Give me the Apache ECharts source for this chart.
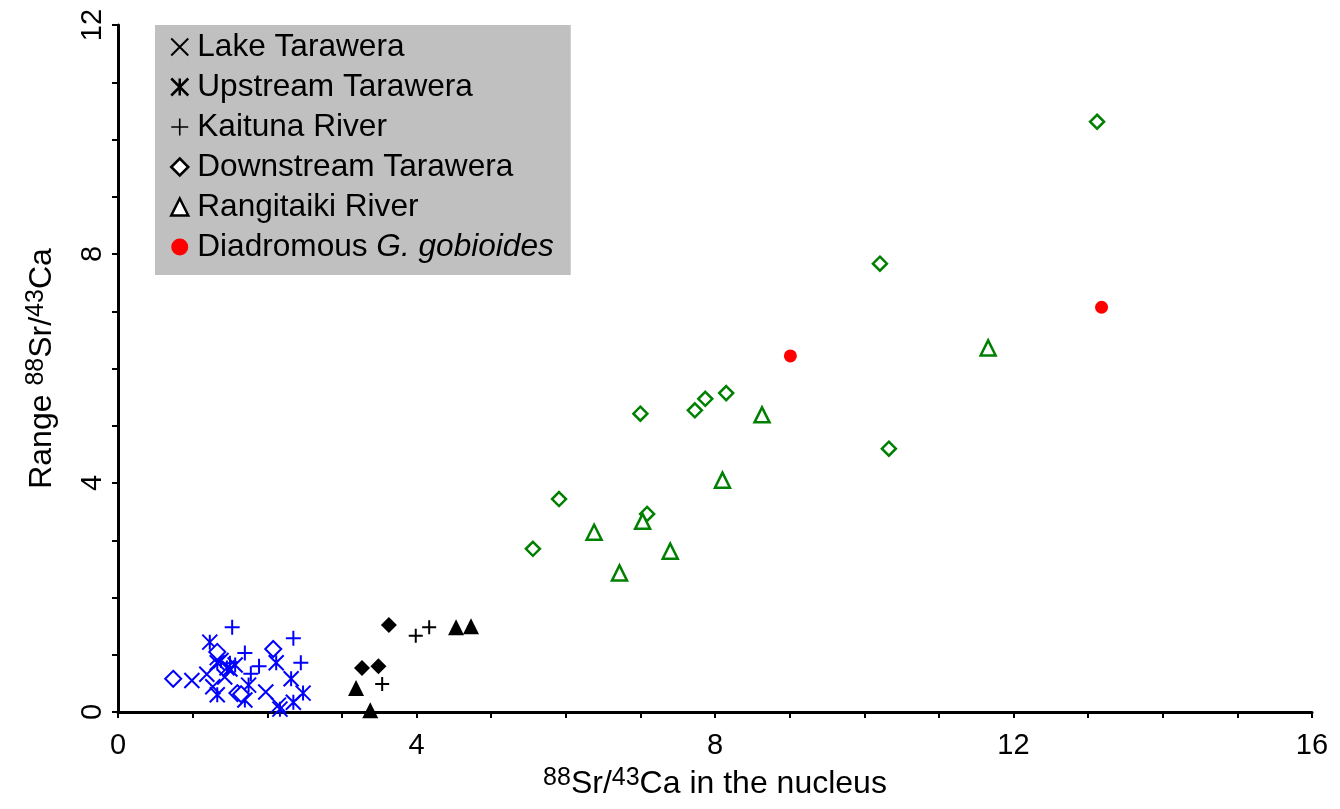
<!DOCTYPE html>
<html><head><meta charset="utf-8">
<script src="https://cdn.jsdelivr.net/npm/echarts@6/dist/echarts.min.js"></script>
<style>html,body{margin:0;padding:0;background:#fff}#c{width:1340px;height:809px}</style>
</head><body><div id="c"></div>
<script>
// ---- data ----
var legendNames = ['Lake Tarawera','Upstream Tarawera','Kaituna River','Downstream Tarawera','Rangitaiki River','Diadromous G. gobioides'];
var xTicks = [0,4,8,12,16];
var yTicks = [0,4,8,12];

var lakeBlue = [[0.99,0.55],[1.19,0.66],[1.27,0.44],[1.43,0.61],[1.98,0.35],[2.15,0.12],[1.33,0.95],[1.50,0.75]];
var upstreamBlue = [[1.23,1.22],[1.33,0.86],[1.38,0.90],[1.46,0.77],[1.57,0.82],[1.33,0.30],[1.70,0.21],[1.75,0.47],[2.12,0.86],[2.32,0.58],[2.17,0.05],[2.35,0.17],[2.48,0.33]];
var kaitunaBlue = [[1.53,1.48],[1.70,1.03],[2.35,1.29],[2.45,0.86],[1.89,0.80],[1.78,0.67],[1.50,0.85]];
var downstreamBlue = [[0.74,0.58],[1.33,1.05],[2.08,1.10],[1.60,0.33],[1.65,0.31]];

var downstreamBlack = [[3.63,1.52],[3.27,0.77],[3.49,0.80]];
var rangitaikiBlack = [[3.19,0.42],[3.38,0.03],[4.53,1.48],[4.73,1.50]];
var kaitunaBlack = [[3.99,1.33],[4.17,1.48],[3.54,0.49]];

var downstreamGreen = [[13.12,10.31],[10.21,7.83],[10.33,4.60],[7.00,5.21],[7.73,5.27],[7.87,5.47],[8.15,5.57],[5.91,3.72],[5.56,2.85],[7.09,3.46]];
var rangitaikiGreen = [[11.66,6.36],[8.63,5.19],[8.10,4.05],[7.03,3.33],[6.38,3.14],[7.40,2.81],[6.72,2.43]];
var gobioidesRed = [[9.01,6.22],[13.18,7.07]];

// ---- symbols ----
var SYM_X = 'path://M0,0L10,10M10,0L0,10';
var SYM_AST = 'path://M0,0L10,10M10,0L0,10M5,0L5,10';
var SYM_PLUS = 'path://M5,0L5,10M0,5L10,5';

function strokeSeries(name, data, sym, color, size, lw) {
  return {name: name, type: 'scatter', data: data, symbol: sym, symbolSize: size,
    itemStyle: {color: 'rgba(0,0,0,0)', borderColor: color, borderWidth: lw, opacity: 1}, emphasis: {disabled: true}};
}
function fillSeries(name, data, sym, color, size) {
  return {name: name, type: 'scatter', data: data, symbol: sym, symbolSize: size,
    itemStyle: {color: color, borderWidth: 0, opacity: 1}, emphasis: {disabled: true}};
}
function hollowSeries(name, data, sym, color, size, lw) {
  return {name: name, type: 'scatter', data: data, symbol: sym, symbolSize: size,
    itemStyle: {color: '#ffffff', borderColor: color, borderWidth: lw, opacity: 1}, emphasis: {disabled: true}};
}

var series = [
  // legend-only entries
  strokeSeries(legendNames[0], [], SYM_X, '#000', 13, 2),
  strokeSeries(legendNames[1], [], SYM_AST, '#000', 13, 2.5),
  strokeSeries(legendNames[2], [], SYM_PLUS, '#000', 13, 1.6),
  hollowSeries(legendNames[3], [], 'diamond', '#000', 16, 2.5),
  hollowSeries(legendNames[4], [], 'triangle', '#000', 16, 2.5),
  fillSeries(legendNames[5], [], 'circle', '#ff0000', 14),
  // data
  strokeSeries('lb', lakeBlue, SYM_X, '#0000ff', 15, 2),
  strokeSeries('ub', upstreamBlue, SYM_AST, '#0000ff', 15, 2),
  strokeSeries('kb', kaitunaBlue, SYM_PLUS, '#0000ff', 15, 2),
  hollowSeries('db', downstreamBlue, 'diamond', '#0000ff', 16, 2),
  fillSeries('dk', downstreamBlack, 'diamond', '#000', 16),
  fillSeries('rk', rangitaikiBlack, 'triangle', '#000', 16),
  strokeSeries('kk', kaitunaBlack, SYM_PLUS, '#000', 14, 2),
  hollowSeries('dg', downstreamGreen, 'diamond', '#008000', 14, 2.5),
  hollowSeries('rg', rangitaikiGreen, 'triangle', '#008000', 15, 2.5),
  fillSeries('gr', gobioidesRed, 'circle', '#ff0000', 13)
];

var chart = echarts.init(document.getElementById('c'), null, {renderer: 'canvas'});
var FONT = "'Liberation Sans',Arial,sans-serif";
var titleRich = {
  s: {fontSize: 25, fontFamily: FONT, color: '#000', padding: [0, 0, 12, 0]},
  n: {fontSize: 32, fontFamily: FONT, color: '#000'}
};
chart.setOption({
  animation: false,
  backgroundColor: '#fff',
  grid: {left: 118, right: 28, top: 25, bottom: 97, containLabel: false},
  legend: {
    data: legendNames, orient: 'vertical', left: 155, top: 25,
    backgroundColor: '#c0c0c0', padding: [5, 17, 11, 15],
    itemWidth: 17, itemHeight: 17, itemGap: 6,
    selectedMode: false,
    itemStyle: {borderWidth: 'inherit'},
    textStyle: {fontFamily: FONT, fontSize: 31.6, color: '#000', lineHeight: 34, padding: [0, 0, 0, 4],
      rich: {i: {fontFamily: FONT, fontSize: 31.6, fontStyle: 'italic', color: '#000', lineHeight: 34}}},
    formatter: function(n){ return n === 'Diadromous G. gobioides' ? 'Diadromous {i|G. gobioides}' : n; }
  },
  xAxis: {
    type: 'value', min: 0, max: 16, interval: 1,
    splitLine: {show: false},
    axisLine: {onZero: false, lineStyle: {color: '#000', width: 3}},
    axisTick: {length: 6, lineStyle: {color: '#000', width: 2}},
    axisLabel: {margin: 19, fontSize: 29, color: '#000', fontFamily: FONT,
      formatter: function(v){ return xTicks.indexOf(v) >= 0 ? String(v) : ''; }},
    name: '{s|88}{n|Sr/}{s|43}{n|Ca in the nucleus}', nameLocation: 'middle', nameGap: 54,
    nameTextStyle: {rich: titleRich}
  },
  yAxis: {
    type: 'value', min: 0, max: 12, interval: 1,
    splitLine: {show: false},
    axisLine: {onZero: false, lineStyle: {color: '#000', width: 3}},
    axisTick: {length: 6, lineStyle: {color: '#000', width: 2}},
    axisLabel: {margin: 11, rotate: 90, fontSize: 29, color: '#000', fontFamily: FONT,
      formatter: function(v){ return yTicks.indexOf(v) >= 0 ? String(v) : ''; }},
    name: '{n|Range }{s|88}{n|Sr/}{s|43}{n|Ca}', nameLocation: 'middle', nameGap: 57, nameRotate: 90,
    nameTextStyle: {rich: titleRich}
  },
  series: series
});
</script></body></html>
